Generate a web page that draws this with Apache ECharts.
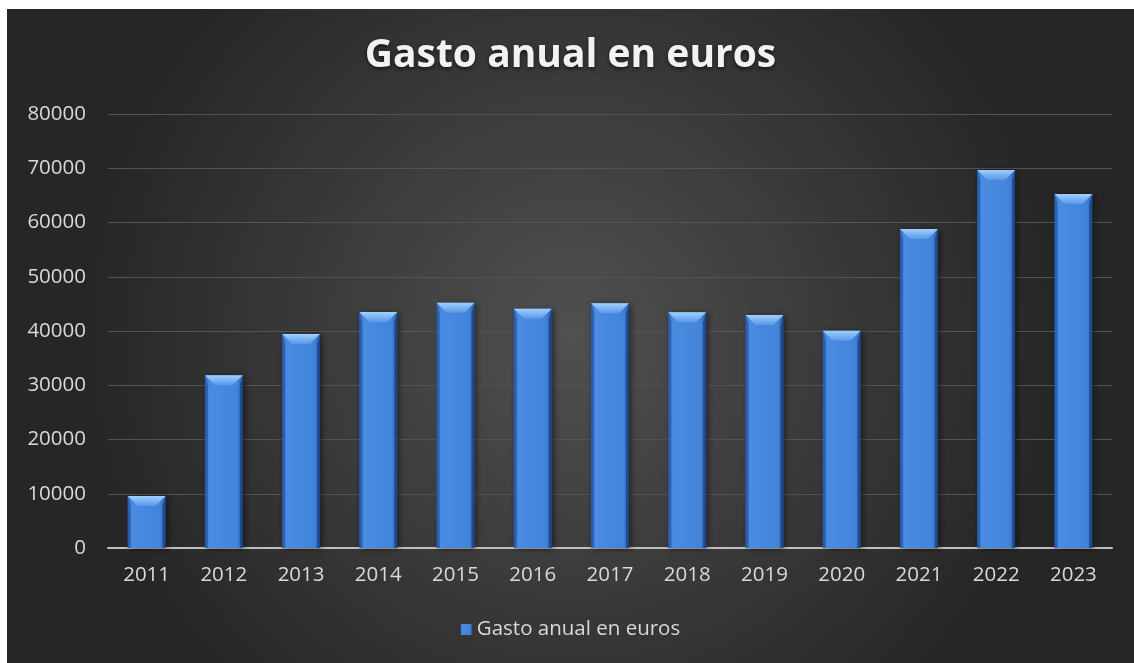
<!DOCTYPE html>
<html>
<head>
<meta charset="utf-8">
<script src="https://cdn.jsdelivr.net/npm/echarts@6/dist/echarts.min.js"></script>
<style>
  html, body { margin: 0; padding: 0; background: #ffffff; }
  #chart { position: absolute; left: 7px; top: 9px; width: 1127px; height: 654px; }
</style>
</head>
<body>
<div id="chart"></div>
<script>
  // datos
  var years = ['2011', '2012', '2013', '2014', '2015', '2016', '2017', '2018', '2019', '2020', '2021', '2022', '2023'];
  var gasto = [9600, 31850, 39450, 43500, 45200, 44100, 45100, 43450, 42950, 40050, 58800, 69700, 65250];
  var seriesName = 'Gasto anual en euros';

  var chart = echarts.init(document.getElementById('chart'));

  // bisel superior de cada barra
  function bevel(params, api) {
    var x = api.coord([api.value(0), api.value(1)]);
    var base = api.coord([api.value(0), 0]);
    var band = api.size([1, 0])[0];
    var w = band * 0.49;
    var x0 = x[0] - w / 2, x1 = x[0] + w / 2;
    var top = x[1], bot = base[1];
    var b = Math.min(10, (bot - top) / 2);
    return {
      type: 'group',
      children: [
        {
          type: 'polygon',
          shape: { points: [[x0, top], [x1, top], [x1 - b, top + b], [x0 + b, top + b]] },
          style: {
            fill: new echarts.graphic.LinearGradient(0, 0, 0, 1, [
              { offset: 0, color: '#9fd0ff' },
              { offset: 1, color: '#5a97e6' }
            ])
          }
        },
        {
          type: 'polygon',
          shape: { points: [[x0, top], [x0 + 3, top + b], [x0 + 3, bot], [x0, bot]] },
          style: { fill: 'rgba(30,70,140,0.5)' }
        },
        {
          type: 'polygon',
          shape: { points: [[x1, top], [x1 - 3, top + b], [x1 - 3, bot], [x1, bot]] },
          style: { fill: 'rgba(20,50,110,0.6)' }
        }
      ]
    };
  }

  chart.setOption({
    backgroundColor: new echarts.graphic.RadialGradient(0.5, 0.5, 0.75, [
      { offset: 0, color: '#505050' },
      { offset: 1, color: '#262626' }
    ]),
    animation: false,
    title: {
      text: 'Gasto anual en euros',
      left: 'center',
      top: 22,
      textStyle: {
        fontFamily: 'Open Sans',
        fontWeight: 'bold',
        fontSize: 39,
        color: '#f2f2f2',
        textShadowColor: 'rgba(0,0,0,0.6)',
        textShadowBlur: 4,
        textShadowOffsetY: 2
      }
    },
    legend: {
      data: [{ name: seriesName, icon: 'rect' }],
      bottom: 18,
      left: 'center',
      itemWidth: 11,
      itemHeight: 11,
      itemGap: 6,
      textStyle: { fontFamily: 'Open Sans', fontSize: 20.5, color: '#d9d9d9' }
    },
    grid: { left: 101, right: 22, top: 105, bottom: 115 },
    xAxis: {
      type: 'category',
      data: years,
      axisLine: { lineStyle: { color: '#bfbfbf', width: 2 } },
      axisTick: { show: false },
      axisLabel: { color: '#d9d9d9', fontFamily: 'Open Sans', fontSize: 20.5, margin: 17 }
    },
    yAxis: {
      type: 'value',
      min: 0,
      max: 80000,
      interval: 10000,
      axisLine: { show: false },
      axisTick: { show: false },
      splitLine: { lineStyle: { color: '#535353', width: 1 } },
      axisLabel: {
        color: '#d9d9d9', fontFamily: 'Open Sans', fontSize: 20.5, margin: 22,
        formatter: function (v) { return String(v); }
      }
    },
    series: [
      {
        name: seriesName,
        type: 'bar',
        data: gasto,
        barWidth: '49%',
        itemStyle: {
          color: new echarts.graphic.LinearGradient(0, 0, 1, 0, [
            { offset: 0, color: '#3371c8' },
            { offset: 0.12, color: '#4a8ce2' },
            { offset: 0.85, color: '#4284da' },
            { offset: 1, color: '#2d63b2' }
          ]),
          shadowColor: 'rgba(0,0,0,0.5)',
          shadowBlur: 6,
          shadowOffsetX: 2,
          shadowOffsetY: 1
        }
      },
      {
        name: 'bisel',
        type: 'custom',
        renderItem: bevel,
        data: years.map(function (y, i) { return [i, gasto[i]]; }),
        silent: true,
        z: 3
      }
    ]
  });
</script>
</body>
</html>
